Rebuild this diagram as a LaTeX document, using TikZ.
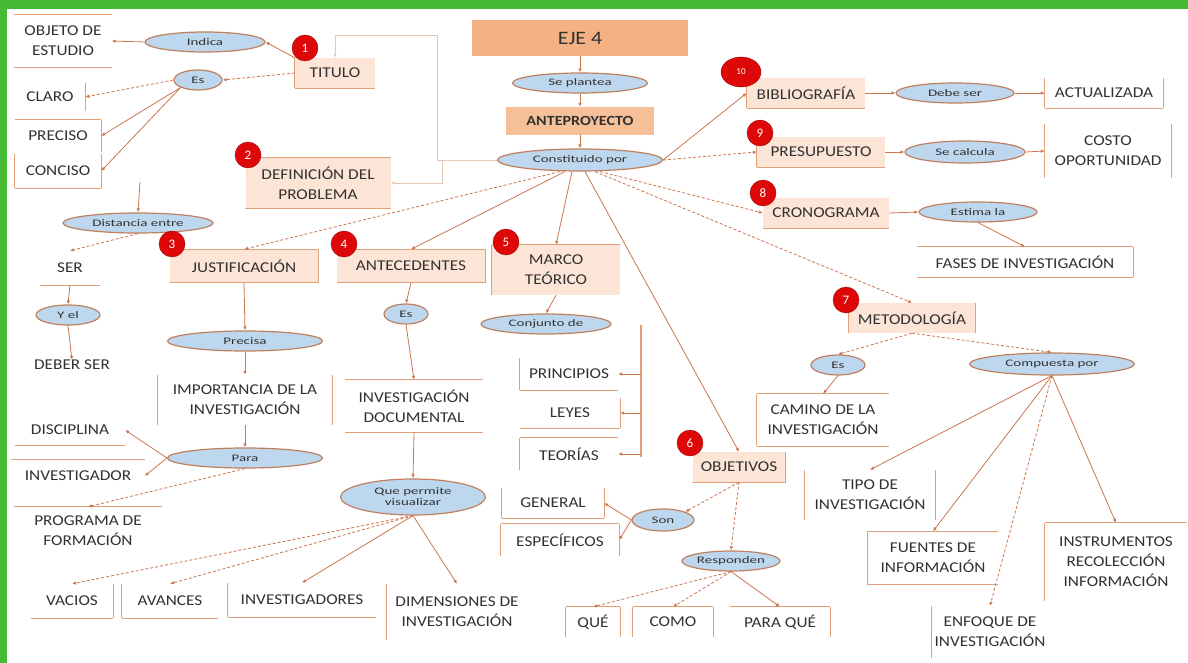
\documentclass[tikz,border=0pt]{standalone}
\usepackage{fontspec}
\setmainfont{Carlito}
\newfontfamily\bxfont[FakeStretch=1.15]{Carlito}
\newfontfamily\ovfont[FakeStretch=1.5]{Carlito}
\usetikzlibrary{arrows.meta,shapes.geometric}

\definecolor{grn}{RGB}{68,187,51}
\definecolor{lnc}{RGB}{204,118,78}
\definecolor{lite}{RGB}{232,200,180}
\definecolor{brdc}{RGB}{226,160,120}
\definecolor{peach}{RGB}{252,228,214}
\definecolor{ejef}{RGB}{244,177,131}
\definecolor{antf}{RGB}{246,192,152}
\definecolor{ovf}{RGB}{189,215,238}
\definecolor{ovb}{RGB}{192,128,96}
\definecolor{bdgc}{RGB}{222,8,8}
\definecolor{txtc}{RGB}{50,50,50}

\begin{document}
\begin{tikzpicture}[x=1pt, y=-1pt,
  txt/.style={font=\bxfont\fontsize{15}{20}\selectfont, text=txtc, align=center, inner sep=0pt},
  bx/.style={txt, fill=peach},
  ov/.style={ellipse, draw=ovb, fill=ovf, line width=1.2pt, inner sep=0pt,
             font=\ovfont\fontsize{10}{11}\selectfont, text=txtc, align=center},
  bdg/.style={circle, fill=bdgc, draw=bdgc!70!black, text=white,
              font=\fontsize{13}{13}\selectfont, minimum size=26pt, inner sep=0pt},
  brd/.style={draw=brdc, line width=1.2pt},
  eT/.style={append after command={(\tikzlastnode.north west) edge[brd] (\tikzlastnode.north east)}},
  eB/.style={append after command={(\tikzlastnode.south west) edge[brd] (\tikzlastnode.south east)}},
  eL/.style={append after command={(\tikzlastnode.north west) edge[brd] (\tikzlastnode.south west)}},
  eR/.style={append after command={(\tikzlastnode.north east) edge[brd] (\tikzlastnode.south east)}},
  con/.style={draw=lnc, line width=0.8pt, -{Latex[length=4pt,width=3.5pt]}},
  dcon/.style={con, dash pattern=on 3pt off 2pt}]
  \useasboundingbox (0,0) rectangle (1188,663);
  \fill[white] (0,0) rectangle (1188,663);
  \fill[grn] (0,0) rectangle (1188,9);
  \fill[grn] (0,0) rectangle (7,663);

  % top centre
  \node[txt, fill=ejef, minimum width=216, minimum height=36, font=\bxfont\fontsize{19}{20}\selectfont] (eje) at (580,38) {EJE 4};
  \node[ov, minimum width=135, minimum height=20] (plantea) at (580,83) {Se plantea};
  \node[txt, fill=antf, minimum width=148, minimum height=28, font=\bxfont\bfseries\fontsize{14}{20}\selectfont] (antep) at (580,121) {ANTEPROYECTO};
  \node[ov, minimum width=165, minimum height=22] (const) at (580,160) {Constituido por};

  % titulo
  \node[txt, eT, eB, minimum width=97, minimum height=52] (objeto) at (63,41) {OBJETO DE\\ESTUDIO};
  \node[ov, minimum width=120, minimum height=20] (indica) at (205,42) {Indica};
  \node[bx, eB, eL, minimum width=80, minimum height=30] (titulo) at (335,73) {TITULO};
  \node[ov, minimum width=48, minimum height=20] (es1) at (198,80) {Es};
  \node[txt, eR, minimum width=70, minimum height=28] (claro) at (50,97) {CLARO};
  \node[txt, eT, eR, minimum width=86, minimum height=32] (preciso) at (58,136) {PRECISO};
  \node[txt, eR, eB, eL, minimum width=86, minimum height=34] (conciso) at (58,171) {CONCISO};
  \coordinate (cfree) at (140,182);
  \node[ov, minimum width=150, minimum height=20] (dist) at (138,223) {Distancia entre};
  \node[txt, eB, minimum width=60, minimum height=34] (ser) at (70,268) {SER};
  \node[ov, minimum width=64, minimum height=20] (yel) at (68,315) {Y el};
  \node[txt] (deber) at (72,365) {DEBER SER};

  % definicion, justificacion
  \node[bx, eT, eB, minimum width=145, minimum height=50] (defin) at (318,183) {DEFINICIÓN DEL\\PROBLEMA};
  \node[bx, eT, eR, eB, minimum width=148, minimum height=33] (justif) at (244,266) {JUSTIFICACIÓN};
  \node[ov, minimum width=155, minimum height=20] (precisa) at (245,341) {Precisa};
  \node[txt, eL, eR, minimum width=175, minimum height=50] (import) at (245,400) {IMPORTANCIA DE LA\\INVESTIGACIÓN};
  \node[ov, minimum width=155, minimum height=20] (para) at (245,458) {Para};
  \node[txt, eB, minimum width=110, minimum height=30] (discip) at (70,430) {DISCIPLINA};
  \node[txt, eT, minimum width=133, minimum height=32] (investig) at (78,476) {INVESTIGADOR};
  \node[txt, eT, minimum width=148, minimum height=48] (progr) at (88,531) {PROGRAMA DE\\FORMACIÓN};

  % antecedentes
  \node[bx, eT, eR, eB, minimum width=148, minimum height=33] (anteced) at (411,266) {ANTECEDENTES};
  \node[ov, minimum width=44, minimum height=20] (es3) at (406,314) {Es};
  \node[txt, eT, eB, minimum width=138, minimum height=52] (invdoc) at (414,406) {INVESTIGACIÓN\\DOCUMENTAL};
  \node[ov, minimum width=145, minimum height=36] (quep) at (413,497) {Que permite\\visualizar};
  \node[txt, eR, eB, minimum width=82, minimum height=34] (vacios) at (72,601) {VACIOS};
  \node[txt, eL, eB, minimum width=96, minimum height=34] (avances) at (170,601) {AVANCES};
  \node[txt, eL, eB, minimum width=148, minimum height=34] (invs) at (302,600) {INVESTIGADORES};
  \node[txt, eL, minimum width=140, minimum height=56] (dimen) at (457,612) {DIMENSIONES DE\\INVESTIGACIÓN};

  % marco teorico
  \node[bx, eT, eL, minimum width=128, minimum height=50] (marco) at (556,270) {MARCO\\TEÓRICO};
  \node[ov, minimum width=130, minimum height=20] (conj) at (546,324) {Conjunto de};
  \node[txt, eL, eB, minimum width=98, minimum height=32] (princ) at (569,374) {PRINCIPIOS};
  \node[txt, eB, eR, minimum width=100, minimum height=30] (leyes) at (570,413) {LEYES};
  \node[txt, eT, eL, minimum width=98, minimum height=32] (teor) at (569,454) {TEORÍAS};
  \coordinate (brt) at (641,325);
  \coordinate (br1) at (641,374);
  \coordinate (br2) at (641,413);
  \coordinate (br3) at (641,454);
  \coordinate (brb) at (641,457);

  % objetivos
  \node[bx, eR, eB, minimum width=93, minimum height=30] (objet) at (739,467) {OBJETIVOS};
  \node[ov, minimum width=62, minimum height=22] (son) at (663,520) {Son};
  \node[txt, eL, eB, eR, minimum width=102, minimum height=30] (general) at (553,503) {GENERAL};
  \node[txt, eT, eL, eR, minimum width=118, minimum height=32] (especif) at (560,540) {ESPECÍFICOS};
  \node[ov, minimum width=98, minimum height=20] (resp) at (731,561) {Responden};
  \node[txt, eT, eL, eR, minimum width=54, minimum height=30] (que) at (593,622) {QUÉ};
  \node[txt, eT, eL, eR, minimum width=80, minimum height=30] (como) at (673,622) {COMO};
  \node[txt, eT, eR, minimum width=100, minimum height=30] (paraque) at (780,622) {PARA QUÉ};

  % right column
  \node[bx, eL, eB, minimum width=118, minimum height=30] (biblio) at (806,93) {BIBLIOGRAFÍA};
  \node[ov, minimum width=118, minimum height=20] (debe) at (955,93) {Debe ser};
  \node[txt, eL, eR, eB, minimum width=118, minimum height=30] (actual) at (1104,93) {ACTUALIZADA};
  \node[bx, eL, eB, minimum width=128, minimum height=30] (presup) at (821,152) {PRESUPUESTO};
  \node[ov, minimum width=120, minimum height=22] (calc) at (965,152) {Se calcula};
  \node[txt, eL, eR, minimum width=126, minimum height=54] (costo) at (1108,151) {COSTO\\OPORTUNIDAD};
  \node[bx, eB, minimum width=126, minimum height=30] (crono) at (826,213) {CRONOGRAMA};
  \node[ov, minimum width=118, minimum height=20] (estima) at (978,212) {Estima la};
  \node[txt, eT, eR, eB, minimum width=216, minimum height=30] (fases) at (1025,262) {FASES DE INVESTIGACIÓN};

  % metodologia
  \node[bx, eL, eR, minimum width=127, minimum height=30] (metod) at (912,318) {METODOLOGÍA};
  \node[ov, minimum width=54, minimum height=20] (es2) at (838,365) {Es};
  \node[ov, minimum width=165, minimum height=22] (comp) at (1052,364) {Compuesta por};
  \node[txt, eT, eB, eL, minimum width=132, minimum height=52] (camino) at (823,420) {CAMINO DE LA\\INVESTIGACIÓN};
  \node[txt, eL, eR, minimum width=130, minimum height=50] (tipo) at (870,495) {TIPO DE\\INVESTIGACIÓN};
  \node[txt, eT, eL, eB, minimum width=130, minimum height=53] (fuentes) at (933,558) {FUENTES DE\\INFORMACIÓN};
  \node[txt, eL, minimum width=116, minimum height=52] (enfoque) at (990,632) {ENFOQUE DE\\INVESTIGACIÓN};
  \node[txt, eT, eL, minimum width=142, minimum height=78] (instr) at (1116,562) {INSTRUMENTOS\\RECOLECCIÓN\\INFORMACIÓN};

  % badges
  \node[bdg] (b1) at (305,48) {1};
  \node[bdg] (b2) at (248,155) {2};
  \node[bdg] (b3) at (172,244) {3};
  \node[bdg] (b4) at (344,244) {4};
  \node[bdg] (b5) at (506,242) {5};
  \node[bdg] (b6) at (690,443) {6};
  \node[bdg] (b7) at (846,300) {7};
  \node[bdg] (b8) at (763,193) {8};
  \node[bdg] (b9) at (760,133) {9};
  \node[bdg, ellipse, minimum width=40, minimum height=30, font=\fontsize{9}{9}\selectfont] (b10) at (741,72) {10};

  % connectors
  \draw[con] (eje.south) -- (plantea.north);
  \draw[con] (plantea.south) -- (antep.north);
  \draw[con] (antep.south) -- (const.north);
  \draw[con, draw=lite] (const.west) -- (437,160) -- (437,35) -| (titulo.north);
  \draw[con, draw=lite] (const.west) -| (442,183) -- (defin.east);
  \draw[dcon] ([xshift=-20pt]const.south) -- (justif.north);
  \draw[con] ([xshift=-15pt]const.south) -- (anteced.north);
  \draw[con] ([xshift=-8pt]const.south) -- (marco.north);
  \draw[con] ([xshift=5pt]const.south) -- (objet.north);
  \draw[dcon] ([xshift=15pt]const.south) -- (metod.north);
  \draw[dcon] ([xshift=20pt]const.south) -- (crono.west);
  \draw[dcon] (const.east) -- (presup.west);
  \draw[con] (const.east) -- (biblio.west);

  \draw[con] (titulo.north west) -- (indica.east);
  \draw[con] (indica.west) -- (objeto.east);
  \draw[dcon] (titulo.west) -- (es1.east);
  \draw[dcon] (es1.west) -- (claro.east);
  \draw[con] (es1.south west) -- (preciso.east);
  \draw[con] (es1.south west) -- (conciso.east);
  \draw[con] (cfree) -- (dist.north);
  \draw[dcon] (dist.south) -- (ser.north);
  \draw[con] (ser.south) -- (yel.north);
  \draw[con] (yel.south) -- (deber.north);

  \draw[con] (justif.south) -- (precisa.north);
  \draw[con] (precisa.south) -- (import.north);
  \draw[con] (import.south) -- (para.north);
  \draw[con] (para.west) -- (discip.east);
  \draw[con] (para.west) -- (investig.east);
  \draw[dcon] (para.south) -- (progr.north);

  \draw[con] (anteced.south) -- (es3.north);
  \draw[con] (es3.south) -- (invdoc.north);
  \draw[con] (invdoc.south) -- (quep.north);
  \draw[dcon] (quep.south) -- (vacios.north);
  \draw[dcon] (quep.south) -- (avances.north);
  \draw[con] (quep.south) -- (invs.north);
  \draw[con] (quep.south) -- (dimen.north);

  \draw[con] (marco.south) -- (conj.north);
  \draw[brd] (brt) -- (brb);
  \draw[con] (br1) -- (princ.east);
  \draw[con] (br2) -- (leyes.east);
  \draw[con] (br3) -- (teor.east);

  \draw[dcon] (objet.south) -- (son.north east);
  \draw[con] (son.west) -- (general.east);
  \draw[con] (son.west) -- (especif.east);
  \draw[dcon] (objet.south) -- (resp.north);
  \draw[dcon] (resp.south) -- (que.north);
  \draw[dcon] (resp.south) -- (como.north);
  \draw[con] (resp.south) -- (paraque.north);

  \draw[con] (biblio.east) -- (debe.west);
  \draw[con] (debe.east) -- (actual.west);
  \draw[con] (presup.east) -- (calc.west);
  \draw[con] (calc.east) -- (costo.west);
  \draw[con] (crono.east) -- (estima.west);
  \draw[con] (estima.south) -- (fases.north);

  \draw[dcon] (metod.south) -- (es2.north);
  \draw[dcon] (metod.south) -- (comp.north);
  \draw[con] (es2.south) -- (camino.north);
  \draw[con] (comp.south) -- (tipo.north);
  \draw[con] (comp.south) -- (fuentes.north);
  \draw[dcon] (comp.south) -- (enfoque.north);
  \draw[con] (comp.south) -- (instr.north);
\end{tikzpicture}
\end{document}
